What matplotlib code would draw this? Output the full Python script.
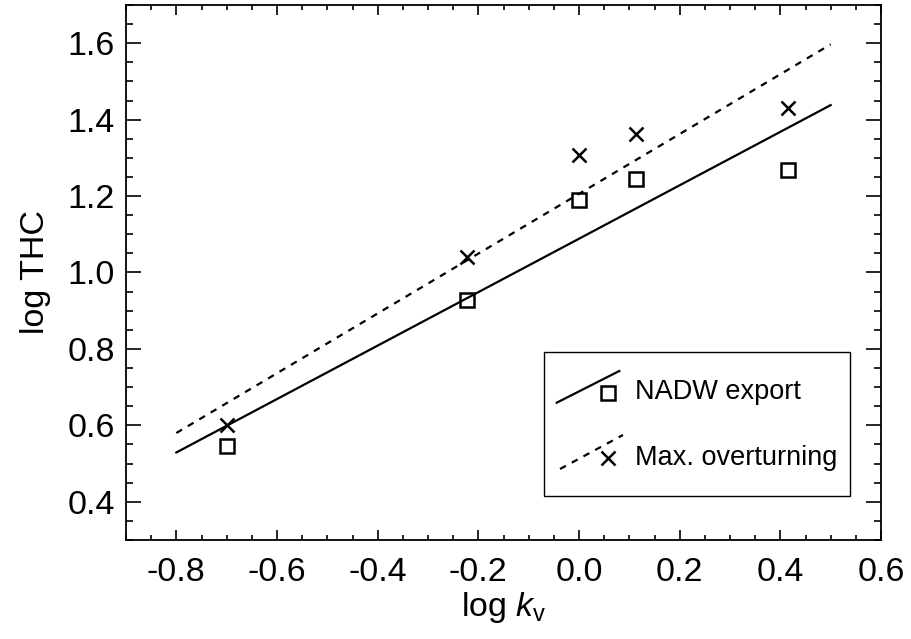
import numpy as np
import matplotlib.pyplot as plt
from matplotlib.patches import Rectangle
from matplotlib.ticker import MultipleLocator

plt.rcParams['font.family'] = ['Liberation Sans', 'DejaVu Sans']
plt.rcParams['mathtext.fontset'] = 'custom'
plt.rcParams['mathtext.rm'] = 'Liberation Sans'
plt.rcParams['mathtext.it'] = 'Liberation Sans:italic'

# data
log_kv = [-0.699, -0.222, 0.0, 0.114, 0.415]
nadw = [0.545, 0.929, 1.19, 1.244, 1.267]
maxov = [0.602, 1.04, 1.308, 1.362, 1.431]

# regression lines (end points)
fit_x = [-0.8, 0.5]
nadw_fit = [0.529, 1.438]
maxov_fit = [0.58, 1.597]

fig = plt.figure(figsize=(9.11, 6.39), dpi=100)
ax = fig.add_axes([126 / 911, 1 - 540 / 639, 755 / 911, 535 / 639])

ax.plot(fit_x, nadw_fit, color='black', lw=1.6)
ax.plot(fit_x, maxov_fit, color='black', lw=1.6, ls=(0, (3, 3)))
ax.plot(log_kv, nadw, ls='none', marker='s', ms=10, mfc='none', mec='black', mew=1.8)
ax.plot(log_kv, maxov, ls='none', marker='x', ms=10, mec='black', mew=1.8)

ax.set_xlim(-0.9, 0.6)
ax.set_ylim(0.3, 1.7)
ax.xaxis.set_major_locator(MultipleLocator(0.2))
ax.xaxis.set_minor_locator(MultipleLocator(0.05))
ax.yaxis.set_major_locator(MultipleLocator(0.2))
ax.yaxis.set_minor_locator(MultipleLocator(0.05))
ax.xaxis.set_major_formatter(plt.FuncFormatter(lambda v, p: f'{v:.1f}'))
ax.yaxis.set_major_formatter(plt.FuncFormatter(lambda v, p: f'{v:.1f}'))

ax.tick_params(axis='both', which='both', direction='in', top=True, right=True,
               labelsize=24.5, width=1.2)
ax.tick_params(axis='x', which='major', length=7.2, pad=12)
ax.tick_params(axis='x', which='minor', length=3.6)
ax.tick_params(axis='y', which='major', length=10.8, pad=8)
ax.tick_params(axis='y', which='minor', length=5)
for s in ax.spines.values():
    s.set_linewidth(1.3)

ax.set_xlabel(r'log $k_\mathrm{v}$', fontsize=24.5, labelpad=2)
ax.set_ylabel('log THC', fontsize=24.5, labelpad=12)

# IDL-style legend box with slanted line samples
def px(x, y):
    return (x - 126) / 755, (540 - y) / 535

x0, y0 = px(544, 496)
x1, y1 = px(850, 352)
ax.add_patch(Rectangle((x0, y0), x1 - x0, y1 - y0, transform=ax.transAxes,
                       fill=False, ec='black', lw=1.0))

(a, b), (c, d) = px(556.7, 402.7), px(619.3, 371)
ax.plot([a, c], [b, d], color='black', lw=1.6, transform=ax.transAxes)
mx, my = px(608, 392.7)
ax.plot([mx], [my], marker='s', ms=10, mfc='none', mec='black', mew=1.8,
        transform=ax.transAxes)
tx, ty = px(635, 392)
ax.text(tx, ty, 'NADW export', fontsize=19.5, va='center', ha='left',
        transform=ax.transAxes)

(a, b), (c, d) = px(560, 469), px(623, 435)
ax.plot([a, c], [b, d], color='black', lw=1.6, ls=(0, (3, 3)), transform=ax.transAxes)
mx, my = px(608, 458)
ax.plot([mx], [my], marker='x', ms=10, mec='black', mew=1.8, transform=ax.transAxes)
tx, ty = px(635, 458)
ax.text(tx, ty, 'Max. overturning', fontsize=19.5, va='center', ha='left',
        transform=ax.transAxes)

fig.savefig('out.png', dpi=100)
